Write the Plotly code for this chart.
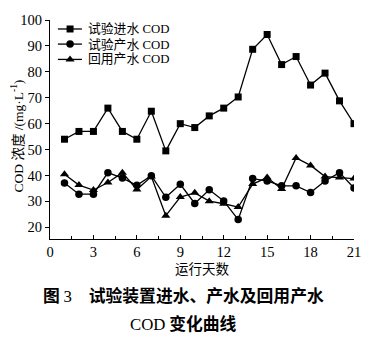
import plotly.graph_objects as go

days = list(range(1, 22))
influent_cod = [54.0, 57.0, 57.0, 66.0, 57.0, 54.0, 64.8, 49.5, 60.0, 58.5, 63.0,
                66.0, 70.3, 88.7, 94.4, 82.8, 85.9, 74.9, 79.5, 68.8, 60.0]
product_cod = [37.1, 32.8, 32.8, 41.1, 39.0, 36.2, 39.9, 31.6, 36.6, 29.2, 34.5,
               30.2, 23.0, 38.8, 37.9, 36.0, 36.0, 33.4, 37.9, 41.1, 35.2]
reuse_cod = [40.5, 36.3, 34.4, 37.3, 41.1, 34.6, 39.6, 24.5, 31.7, 33.3, 30.1,
             29.1, 27.8, 36.7, 39.2, 34.8, 46.8, 43.9, 39.6, 39.2, 38.8]
series_names = ["试验进水 COD", "试验产水 COD", "回用产水 COD"]
x_ticks = [0, 3, 6, 9, 12, 15, 18, 21]
y_ticks = [20, 30, 40, 50, 60, 70, 80, 90, 100]

serif = "'Liberation Serif', 'Noto Sans CJK SC', serif"
styles = [("square", 7), ("circle", 7.5), ("triangle-up", 8)]

fig = go.Figure()
for name, vals, (sym, size) in zip(series_names, [influent_cod, product_cod, reuse_cod], styles):
    fig.add_trace(go.Scatter(
        x=days, y=vals, name=name, mode="lines+markers", showlegend=False,
        line=dict(color="black", width=1.3),
        marker=dict(symbol=sym, size=size, color="black"),
    ))

# compact legend drawn on an overlay axis in plot-fraction coordinates
legend_rows = [0.959, 0.890, 0.820]
for name, row, (sym, size) in zip(series_names, legend_rows, styles):
    fig.add_trace(go.Scatter(
        x=[0.026, 0.105], y=[row, row], xaxis="x2", yaxis="y2",
        mode="lines", line=dict(color="black", width=1.3),
        showlegend=False, hoverinfo="skip",
    ))
    fig.add_trace(go.Scatter(
        x=[0.066], y=[row], xaxis="x2", yaxis="y2", mode="markers",
        marker=dict(symbol=sym, size=size, color="black"),
        showlegend=False, hoverinfo="skip",
    ))
    fig.add_annotation(text=name, xref="x2", yref="y2", x=0.118, y=row,
                       xanchor="left", yanchor="middle", showarrow=False,
                       font=dict(family=serif, size=12.8, color="black"))

fig.update_layout(
    width=389, height=347,
    margin=dict(l=50, r=35, t=17, b=108),
    paper_bgcolor="white", plot_bgcolor="white",
    font=dict(family=serif, size=14, color="black"),
    xaxis=dict(
        range=[0, 21], tickvals=x_ticks, ticks="inside", ticklen=4,
        tickcolor="black", showline=True, linecolor="black", linewidth=1,
        showgrid=False, zeroline=False,
        minor=dict(tickvals=[1.5, 4.5, 7.5, 10.5, 13.5, 16.5, 19.5],
                   ticks="inside", ticklen=3, tickcolor="black"),
        title=dict(text="运行天数", font=dict(family=serif, size=13.5), standoff=5),
        tickfont=dict(family=serif, size=14.5),
    ),
    yaxis=dict(
        range=[15.5, 100], tickvals=y_ticks, ticks="outside", ticklen=4,
        tickcolor="black", showline=True, linecolor="black", linewidth=1,
        showgrid=False, zeroline=False,
        tickfont=dict(family=serif, size=14.5),
    ),
    xaxis2=dict(domain=[0, 1], range=[0, 1], overlaying="x", visible=False),
    yaxis2=dict(domain=[0, 1], range=[0, 1], overlaying="y", visible=False),
)

# y-axis title placed as a rotated annotation
fig.add_annotation(text="COD 浓度 /(mg·L<sup>-1</sup>)", textangle=-90,
                   xref="paper", yref="paper", x=0, y=0.5,
                   xanchor="center", yanchor="middle", xshift=-32, yshift=-7,
                   showarrow=False, font=dict(family=serif, size=13.5, color="black"))

caption_font = dict(family="'Noto Sans CJK SC', sans-serif", size=16.8, color="black", weight="bold")
sp = "<span style=\"font-family:'Liberation Serif';font-weight:normal\">{}</span>"
fig.add_annotation(text="图 " + sp.format("3") + "\u3000试验装置进水、产水及回用产水",
                   xref="paper", yref="paper", x=0.5, y=0, yanchor="middle",
                   yshift=-56, xshift=-19, showarrow=False, font=caption_font)
fig.add_annotation(text=sp.format("COD") + " 变化曲线", xref="paper", yref="paper",
                   x=0.5, y=0, yanchor="middle", yshift=-84, xshift=-19,
                   showarrow=False, font=caption_font)

fig.write_html("out.html")
